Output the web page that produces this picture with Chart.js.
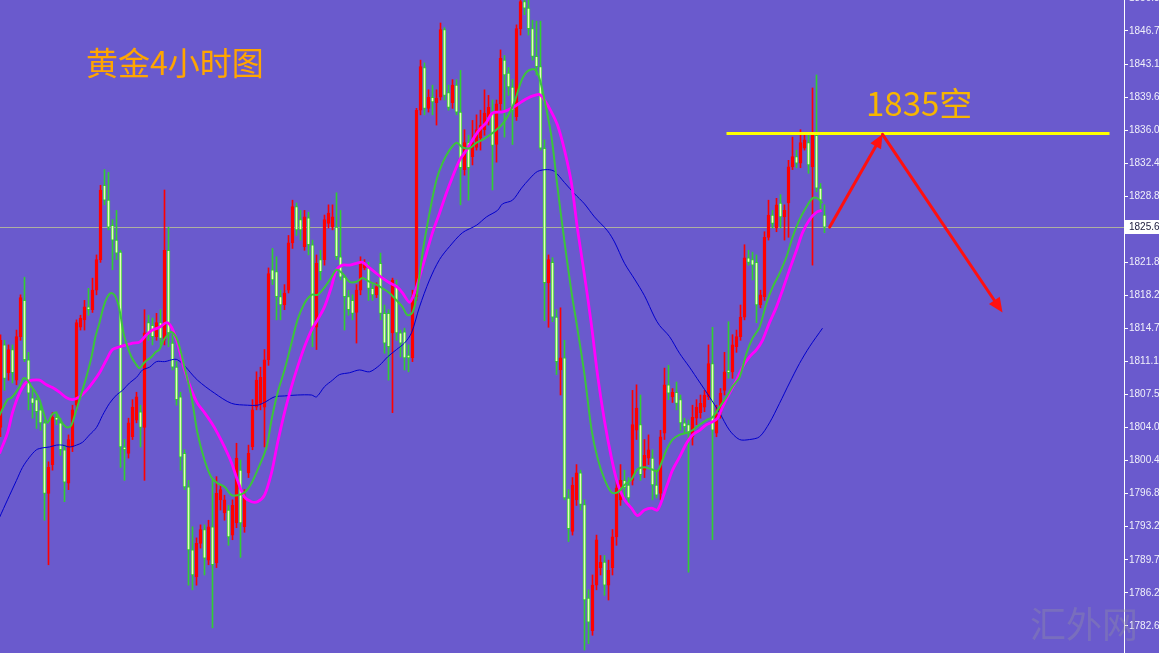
<!DOCTYPE html>
<html><head><meta charset="utf-8">
<script src="https://cdn.jsdelivr.net/npm/chart.js@4.4.1/dist/chart.umd.min.js"></script>
<style>html,body{margin:0;padding:0;background:#6a5acd;overflow:hidden}canvas{display:block}</style>
</head><body>
<canvas id="c" width="1159" height="653"></canvas>
<script>
// ---- candle data (gold, 4H) ----
const openP = [1804.0,1812.9,1809.9,1812.4,1809.1,1813.8,1817.7,1811.3,1807.2,1807.0,1805.9,1804.5,1796.9,1800.0,1805.1,1804.5,1801.6,1798.0,1801.9,1806.4,1814.8,1815.6,1817.0,1816.7,1818.8,1822.1,1830.1,1828.5,1825.8,1824.2,1822.9,1801.9,1801.2,1803.0,1804.8,1805.7,1804.0,1815.3,1815.0,1813.8,1815.3,1813.4,1823.1,1813.1,1810.5,1807.3,1801.2,1797.6,1790.8,1787.9,1791.5,1793.0,1789.7,1793.3,1789.4,1796.2,1794.8,1795.1,1792.4,1793.7,1799.4,1793.3,1799.1,1801.9,1806.2,1806.6,1806.2,1811.3,1821.0,1820.8,1818.1,1817.2,1818.8,1823.9,1827.8,1826.4,1823.5,1826.6,1823.7,1814.8,1822.1,1822.1,1826.0,1825.6,1825.6,1822.4,1820.2,1818.1,1817.7,1816.4,1818.8,1821.2,1821.2,1819.0,1818.3,1821.7,1816.3,1816.3,1814.2,1819.2,1814.2,1814.3,1811.8,1811.5,1818.1,1838.2,1842.8,1838.4,1839.6,1839.0,1839.6,1846.9,1840.1,1839.0,1840.9,1838.0,1831.8,1834.7,1833.2,1834.2,1835.2,1836.1,1837.5,1837.9,1834.5,1838.9,1843.6,1842.2,1840.7,1837.5,1847.0,1849.9,1849.2,1847.0,1844.0,1842.9,1834.1,1819.6,1821.8,1815.9,1810.2,1811.5,1796.4,1792.8,1796.2,1799.1,1795.7,1785.6,1782.1,1787.0,1788.9,1789.5,1787.0,1788.9,1792.2,1796.2,1798.3,1797.8,1798.3,1803.7,1804.3,1799.4,1800.7,1800.7,1797.8,1796.9,1803.4,1808.6,1807.3,1807.8,1807.0,1804.5,1804.3,1803.0,1805.0,1805.6,1806.2,1807.3,1810.9,1803.4,1805.6,1808.0,1810.2,1810.0,1812.7,1813.8,1815.9,1822.3,1822.1,1821.8,1817.2,1818.1,1824.5,1826.9,1825.5,1828.2,1826.7,1828.2,1832.1,1833.2,1832.5,1834.1,1834.7,1832.1,1835.5,1829.8,1826.9];
const highP = [1814.0,1813.4,1812.9,1812.9,1814.5,1818.3,1820.2,1812.1,1808.0,1807.2,1806.4,1804.8,1800.3,1805.6,1805.7,1805.0,1802.1,1803.2,1806.4,1815.6,1816.1,1817.7,1819.0,1820.1,1822.6,1830.1,1831.8,1831.5,1826.4,1827.4,1823.1,1802.7,1805.0,1807.0,1807.8,1806.4,1816.7,1816.1,1815.8,1816.3,1816.7,1829.6,1825.6,1814.0,1811.1,1807.8,1801.6,1798.3,1793.3,1792.1,1793.5,1793.5,1794.0,1798.3,1798.7,1797.8,1796.7,1795.6,1796.2,1802.3,1800.5,1797.3,1802.1,1807.0,1810.0,1810.5,1812.4,1821.2,1823.3,1822.4,1818.8,1819.4,1824.7,1828.5,1828.2,1827.4,1827.4,1827.2,1824.2,1822.6,1823.1,1826.9,1828.0,1828.0,1829.3,1827.4,1820.4,1818.8,1818.3,1819.4,1822.4,1822.1,1821.8,1819.4,1819.6,1822.8,1817.2,1816.7,1820.1,1819.9,1814.5,1814.7,1812.9,1818.8,1838.4,1843.6,1843.3,1840.4,1840.9,1840.4,1847.6,1847.1,1840.9,1841.5,1841.5,1842.5,1836.1,1835.5,1837.1,1837.7,1838.2,1840.4,1839.8,1839.3,1839.3,1844.7,1844.1,1842.8,1841.5,1847.4,1850.1,1850.6,1850.1,1847.9,1847.8,1847.8,1835.0,1822.6,1822.3,1816.7,1816.9,1813.4,1797.3,1798.6,1800.0,1799.4,1796.2,1786.5,1788.1,1792.4,1790.2,1790.2,1789.7,1793.0,1798.3,1800.0,1799.4,1798.6,1808.0,1808.6,1807.5,1802.7,1803.2,1801.6,1799.4,1803.7,1810.4,1810.7,1808.2,1808.9,1807.5,1805.0,1804.8,1806.4,1807.0,1807.5,1808.0,1812.9,1814.8,1806.4,1808.2,1812.1,1815.4,1814.0,1814.5,1817.2,1823.7,1823.1,1822.9,1822.6,1818.8,1825.1,1828.5,1827.4,1828.7,1829.1,1828.0,1832.8,1835.3,1833.9,1836.1,1835.7,1835.5,1840.6,1842.0,1830.3,1828.0];
const lowP = [1803.0,1808.0,1809.1,1808.8,1808.6,1813.4,1811.1,1805.9,1805.0,1803.9,1803.7,1794.0,1789.2,1799.4,1804.3,1801.0,1796.0,1797.3,1801.4,1805.9,1814.5,1814.5,1816.1,1816.4,1818.3,1821.8,1828.0,1825.3,1821.0,1822.1,1799.7,1798.3,1800.7,1802.7,1804.5,1801.9,1798.3,1813.4,1812.9,1813.4,1812.9,1812.9,1812.7,1810.2,1806.4,1799.4,1797.3,1787.0,1786.5,1787.0,1791.0,1788.1,1789.2,1782.4,1788.9,1795.1,1794.0,1791.3,1791.9,1793.2,1790.0,1792.7,1798.6,1801.6,1805.9,1805.9,1801.9,1810.7,1819.4,1815.6,1815.6,1816.7,1818.5,1823.3,1824.7,1824.2,1823.1,1822.6,1812.7,1812.4,1819.9,1821.5,1825.5,1825.3,1822.1,1819.9,1814.5,1816.1,1815.6,1813.1,1818.3,1821.0,1817.7,1817.7,1818.0,1815.6,1812.0,1809.1,1805.6,1813.4,1811.6,1810.2,1810.0,1811.1,1817.7,1837.7,1837.7,1838.0,1837.7,1836.6,1839.3,1839.3,1838.2,1838.4,1837.7,1828.0,1831.2,1828.5,1832.3,1833.9,1833.9,1835.5,1836.6,1829.6,1832.6,1838.2,1835.3,1839.8,1834.5,1837.1,1846.3,1848.5,1846.3,1843.6,1842.0,1833.9,1815.5,1814.8,1815.4,1809.7,1807.5,1796.2,1791.7,1792.4,1795.6,1795.1,1780.0,1780.7,1781.6,1786.5,1788.1,1785.9,1785.4,1788.1,1791.3,1795.6,1796.2,1795.6,1797.8,1802.7,1798.3,1798.6,1800.0,1796.2,1796.4,1796.2,1802.7,1807.0,1806.7,1805.9,1803.7,1803.4,1788.4,1802.1,1804.3,1805.0,1805.7,1807.0,1791.9,1803.0,1805.0,1807.5,1809.3,1809.3,1812.1,1813.4,1815.6,1821.5,1819.9,1815.3,1816.9,1817.7,1824.2,1825.5,1825.1,1825.5,1824.2,1824.5,1831.8,1832.0,1832.0,1833.9,1831.4,1821.5,1829.4,1827.4,1825.0];
const closeP = [1813.4,1809.3,1812.4,1809.9,1813.8,1818.0,1811.3,1807.7,1806.6,1805.7,1804.5,1796.9,1799.7,1805.1,1804.8,1801.6,1798.1,1802.7,1805.9,1815.3,1815.8,1817.0,1816.7,1818.8,1822.1,1829.6,1828.5,1825.6,1824.2,1822.8,1801.9,1801.6,1804.5,1806.2,1807.3,1804.0,1814.2,1814.2,1813.8,1815.3,1813.6,1823.1,1814.2,1810.5,1807.0,1800.8,1797.6,1790.8,1788.1,1791.5,1793.0,1789.9,1793.3,1789.2,1796.9,1797.3,1796.2,1792.2,1795.6,1800.7,1793.7,1796.4,1801.2,1805.9,1809.1,1809.4,1811.3,1820.6,1819.9,1818.1,1817.2,1818.5,1823.9,1827.8,1825.3,1825.3,1826.7,1823.7,1814.8,1821.7,1820.8,1826.4,1827.1,1826.7,1822.4,1820.2,1818.1,1816.7,1816.3,1818.8,1821.7,1821.7,1819.0,1818.3,1819.2,1816.3,1813.1,1812.7,1819.9,1814.2,1813.1,1811.5,1811.5,1818.1,1838.2,1842.9,1838.4,1839.6,1839.1,1839.5,1846.9,1839.8,1838.5,1840.9,1838.0,1832.0,1834.7,1832.0,1834.7,1836.1,1836.6,1837.9,1838.5,1834.4,1838.9,1843.8,1842.0,1840.7,1838.2,1847.0,1849.9,1849.2,1847.0,1844.0,1842.9,1834.1,1819.6,1822.1,1815.9,1811.1,1811.5,1796.4,1793.1,1797.8,1799.1,1795.7,1785.4,1783.0,1787.0,1791.9,1789.5,1787.0,1788.6,1792.2,1797.5,1798.3,1797.5,1796.4,1804.3,1806.1,1798.9,1801.0,1801.6,1797.8,1796.7,1803.0,1808.6,1807.7,1807.8,1806.6,1804.5,1804.1,1803.4,1805.1,1806.2,1806.6,1807.5,1810.9,1803.7,1805.4,1807.7,1810.0,1809.9,1812.9,1813.8,1815.9,1822.3,1821.8,1821.5,1817.2,1818.3,1824.5,1826.9,1826.0,1828.0,1826.7,1827.4,1832.1,1833.2,1832.5,1834.7,1835.0,1832.3,1835.5,1829.8,1828.5,1825.6];

// ---- moving averages: [bar index, price] ----
const maFast = [[-0.25,1805.3],[1.75,1807.0],[2.75,1807.2],[4.75,1808.4],[5.75,1809.3],[6.75,1809.1],[7.75,1808.4],[8.75,1807.8],[9.75,1807.0],[10.75,1805.6],[11.75,1804.5],[12.75,1805.3],[13.75,1805.6],[14.75,1805.0],[15.75,1804.3],[16.75,1804.0],[17.75,1804.3],[18.75,1805.6],[19.75,1807.0],[20.75,1808.4],[21.75,1809.9],[22.75,1811.6],[23.75,1813.8],[24.75,1815.3],[25.75,1817.0],[26.75,1818.1],[27.75,1818.5],[28.75,1818.1],[29.75,1816.7],[30.75,1814.2],[31.75,1812.7],[32.75,1811.6],[33.75,1810.9],[34.75,1810.4],[35.75,1810.9],[36.75,1811.3],[37.75,1811.6],[38.75,1812.1],[39.75,1812.4],[40.75,1813.4],[42.75,1814.3],[44.25,1813.4],[46,1810.5],[47.75,1807.3],[49.25,1803.4],[51,1800.5],[52.75,1798.6],[54.25,1798.0],[56,1797.6],[57.75,1796.7],[59.25,1796.7],[61,1797.0],[62.75,1798.0],[64.25,1799.4],[66,1801.2],[66.75,1802.3],[67.75,1804.8],[69.25,1807.7],[71,1810.2],[72.75,1813.1],[74.25,1815.6],[76,1817.4],[77.75,1818.3],[79.25,1818.3],[81,1819.1],[82.75,1820.2],[84,1821.0],[85.5,1820.6],[87.25,1819.7],[89,1819.7],[90.5,1820.1],[92.25,1819.7],[94,1819.4],[95.5,1819.0],[97.25,1818.5],[99,1817.7],[100.5,1817.0],[101.75,1816.1],[103,1816.4],[104,1818.1],[105.5,1822.8],[107.25,1827.1],[109,1830.7],[110.5,1832.5],[112.25,1833.9],[114,1834.7],[115.5,1834.2],[117.25,1834.1],[119,1834.7],[120.5,1835.0],[122.25,1835.5],[124,1836.1],[125.25,1836.6],[126.75,1837.5],[128.5,1839.1],[130.25,1841.4],[131.75,1842.4],[133.5,1842.6],[134.75,1841.6],[136,1839.3],[137.75,1835.3],[139.25,1829.9],[141,1824.0],[142.75,1818.6],[144.25,1814.6],[146,1809.7],[147.75,1803.8],[149.25,1800.7],[151,1798.4],[152.75,1797.0],[154.25,1797.0],[156,1797.8],[157.75,1798.4],[159.25,1799.5],[161,1799.7],[162.75,1799.5],[164.25,1799.3],[166.5,1801.6],[168,1802.7],[169.75,1803.2],[171.5,1803.4],[173,1803.7],[174.75,1804.3],[176.5,1804.8],[178,1805.1],[179.75,1806.2],[181.5,1807.3],[183,1808.4],[184.75,1809.4],[186.5,1812.0],[188,1813.6],[189.75,1814.8],[191.5,1817.4],[193,1819.1],[194.75,1820.6],[196.5,1822.4],[198,1824.5],[199.75,1826.4],[201.5,1827.8],[203,1828.7],[204.25,1828.7],[205.5,1828.2]];
const maMid = [[-0.25,1801.2],[1.75,1803.4],[3,1805.6],[4.75,1807.7],[6.5,1808.9],[8,1809.1],[9.75,1809.1],[11.5,1808.6],[13,1808.3],[14.75,1807.8],[16.5,1807.2],[18,1807.0],[19.75,1807.3],[21.5,1808.0],[23,1808.8],[24.75,1809.9],[26.5,1811.3],[28,1812.4],[29.75,1812.7],[31.5,1812.9],[33,1813.1],[34.75,1813.2],[36.5,1814.0],[38,1814.5],[39.75,1814.8],[41.5,1815.3],[42.75,1814.8],[44.25,1813.1],[46,1810.2],[47.75,1808.0],[49.25,1806.6],[51,1805.6],[52.75,1804.5],[54.25,1803.4],[56,1801.9],[57.75,1800.2],[59.25,1798.3],[61,1796.5],[62.75,1796.0],[64.25,1796.0],[66,1796.7],[67.75,1799.1],[69.25,1802.3],[71,1805.6],[72.75,1808.4],[74.25,1810.5],[76,1812.7],[77.75,1814.5],[79.25,1815.6],[81,1817.0],[82.75,1819.2],[84,1821.0],[85.5,1821.5],[87.25,1821.5],[89,1821.7],[90.5,1821.8],[92.25,1821.2],[94,1820.6],[95.5,1820.1],[97.25,1819.6],[99,1819.2],[100.5,1818.5],[102.25,1817.5],[103.5,1818.5],[104.75,1820.2],[106.5,1822.8],[108,1825.0],[109.75,1827.1],[111.5,1829.3],[113,1831.0],[114.75,1832.8],[116.5,1833.9],[118,1835.0],[119.75,1836.1],[121.5,1836.9],[123,1837.9],[125.25,1838.0],[126.75,1838.2],[128.5,1838.6],[130.25,1839.1],[131.75,1839.5],[133.5,1839.8],[134.75,1839.9],[136,1839.3],[137.75,1838.0],[139.25,1836.6],[141,1833.9],[142.75,1830.3],[144.25,1825.4],[146,1820.4],[147.75,1815.0],[149.25,1809.7],[151,1804.7],[152.75,1800.7],[154.25,1798.0],[156,1796.2],[157.75,1795.3],[159.25,1794.5],[161,1795.1],[162.75,1795.3],[164.25,1795.1],[166.5,1797.6],[168,1799.4],[169.75,1800.8],[171.5,1802.3],[173,1803.2],[174.75,1803.7],[176.5,1804.3],[178,1804.6],[179.25,1805.0],[180.5,1806.2],[182.25,1807.7],[184,1809.1],[185.5,1810.5],[187.25,1811.6],[189,1812.4],[190.5,1813.4],[192.25,1815.3],[194,1817.0],[195.5,1818.8],[197.25,1821.0],[199,1823.1],[200.5,1825.0],[202.25,1826.4],[204,1827.2],[205.25,1827.4]];
const maSlow = [[-0.25,1794.3],[1.75,1796.2],[4,1798.3],[5.5,1799.7],[7.25,1800.8],[9,1801.6],[10.5,1801.8],[12.25,1801.9],[14,1802.1],[15.5,1802.1],[17.25,1801.9],[19,1802.1],[20.5,1802.4],[22.25,1803.2],[24,1804.0],[25.5,1805.3],[27.25,1806.6],[29,1807.5],[30.5,1808.0],[32.25,1808.8],[34,1809.4],[35.5,1810.2],[37.25,1810.5],[39,1811.1],[41,1811.1],[44.25,1811.3],[49.25,1809.1],[53.5,1807.7],[57.75,1806.6],[61.75,1806.4],[64.25,1806.4],[66,1806.7],[68.5,1807.3],[71,1807.4],[74.25,1807.5],[77.75,1807.5],[79,1807.3],[81,1808.4],[83,1809.1],[84.75,1809.7],[87.25,1809.9],[89.75,1810.2],[92.25,1810.0],[94.75,1810.7],[96.75,1811.6],[99,1812.4],[101,1813.1],[102.75,1814.2],[104.75,1817.0],[107.25,1819.9],[109.75,1822.1],[112.25,1823.5],[115.5,1825.0],[119,1825.8],[121.5,1826.7],[124.25,1827.4],[125.5,1828.1],[128,1828.5],[130.25,1829.8],[132.25,1830.8],[134.25,1831.6],[136.75,1831.8],[138.5,1831.6],[141,1830.4],[143.5,1829.2],[146,1828.1],[148.5,1826.7],[151.75,1825.2],[153.5,1824.0],[156,1821.7],[158.5,1820.0],[161,1818.2],[163.5,1815.9],[164.75,1815.0],[167.25,1813.8],[169.75,1812.0],[172.25,1810.5],[174.75,1808.9],[177.25,1807.3],[179.75,1805.6],[182.25,1803.7],[184.75,1802.7],[187.25,1802.7],[189.75,1803.0],[192.25,1804.5],[194.75,1806.6],[197.25,1808.8],[199.75,1810.9],[202.25,1812.7],[205.5,1814.7]];

// ---- price axis ----
const yMin = 1779.69, yMax = 1850.08;
const yTickValues = [1850.30,1846.74,1843.18,1839.61,1836.05,1832.49,1828.92,1825.36,1821.80,1818.24,1814.67,1811.11,1807.55,1803.99,1800.42,1796.86,1793.30,1789.73,1786.17,1782.61];
const yTickLabels = ["1850.31","1846.74","1843.17","1839.61","1836.04","1832.48","1828.89","1825.35","1821.80","1818.24","1814.70","1811.14","1807.57","1804.01","1800.44","1796.88","1793.29","1789.73","1786.20","1782.62"];
const lastPriceLabel = "1825.61";

// ---- annotations (data units: bar index / price) ----
const resistValue = 1835.7;
const resistSpan = [181.5, 277.25];
const arrowPath = [[207.3, 1825.6], [220.5, 1835.6], [250.5, 1816.4]];
const titleText = "黄金4小时图";
const signalText = "1835空";
const watermarkText = "汇外网";

const N = openP.length;
const isUp = openP.map((o, i) => closeP[i] >= o);
const UP = '#ff0000', DN_EDGE = '#32cd32', DN_FILL = '#e6ffb8';
const wickData = openP.map((_, i) => ({ x: i, y: [lowP[i], highP[i]] }));
const bodyData = openP.map((o, i) => ({ x: i, y: [Math.min(o, closeP[i]), Math.max(o, closeP[i])] }));

function drawArrow(ctx, x1, y1, x2, y2, head) {
  const a = Math.atan2(y2 - y1, x2 - x1);
  ctx.beginPath();
  ctx.moveTo(x1, y1);
  ctx.lineTo(x2 - Math.cos(a) * head * 0.6, y2 - Math.sin(a) * head * 0.6);
  ctx.stroke();
  ctx.beginPath();
  ctx.moveTo(x2, y2);
  ctx.lineTo(x2 - head * Math.cos(a - 0.42), y2 - head * Math.sin(a - 0.42));
  ctx.lineTo(x2 - head * Math.cos(a + 0.42), y2 - head * Math.sin(a + 0.42));
  ctx.closePath();
  ctx.fill();
}

const overlay = {
  id: 'overlay',
  beforeDraw(chart) {
    const c = chart.ctx;
    c.save(); c.fillStyle = '#6a5acd'; c.fillRect(0, 0, chart.width, chart.height); c.restore();
  },
  beforeDatasetsDraw(chart) {
    const { ctx, chartArea, scales: { y } } = chart;
    const py = Math.round(y.getPixelForValue(closeP[N - 1])) + 0.5;
    ctx.save();
    ctx.strokeStyle = '#aeb0a0'; ctx.lineWidth = 1;
    ctx.beginPath(); ctx.moveTo(chartArea.left, py); ctx.lineTo(chartArea.right, py); ctx.stroke();
    ctx.restore();
  },
  afterDatasetsDraw(chart) {
    const { ctx, scales: { x, y } } = chart;
    ctx.save();
    const ry = y.getPixelForValue(resistValue);
    ctx.strokeStyle = '#ffff00'; ctx.lineWidth = 3;
    ctx.beginPath(); ctx.moveTo(x.getPixelForValue(resistSpan[0]), ry); ctx.lineTo(x.getPixelForValue(resistSpan[1]), ry); ctx.stroke();
    const pts = arrowPath.map(p => [x.getPixelForValue(p[0]), y.getPixelForValue(p[1])]);
    ctx.strokeStyle = '#ff1010'; ctx.fillStyle = '#ff1010'; ctx.lineWidth = 3; ctx.lineCap = 'round';
    drawArrow(ctx, pts[0][0], pts[0][1], pts[1][0], pts[1][1], 15);
    drawArrow(ctx, pts[1][0], pts[1][1], pts[2][0], pts[2][1], 16);
    ctx.textBaseline = 'middle'; ctx.textAlign = 'left';
    ctx.fillStyle = '#ffa500';
    ctx.font = '32px "Noto Sans CJK SC"';
    ctx.fillText(titleText, 86, 63);
    ctx.fillStyle = '#f7b500';
    ctx.font = '33px "Noto Sans CJK SC"';
    ctx.fillText(signalText, 866, 103);
    ctx.restore();
  },
  afterDraw(chart) {
    const { ctx, chartArea, scales: { y } } = chart;
    ctx.save();
    const py = Math.round(y.getPixelForValue(closeP[N - 1]));
    ctx.fillStyle = '#ffffff';
    ctx.fillRect(chartArea.right + 1, py - 7, 40, 14);
    ctx.fillStyle = '#202040';
    ctx.font = '10px "Liberation Sans"';
    ctx.textBaseline = 'middle'; ctx.textAlign = 'left';
    ctx.fillText(lastPriceLabel, chartArea.right + 5, py);
    ctx.fillStyle = 'rgba(150,150,160,0.35)';
    ctx.font = '36px "Noto Sans CJK SC"';
    ctx.fillText(watermarkText, 1030, 624);
    ctx.restore();
  }
};

new Chart(document.getElementById('c'), {
  type: 'bar',
  data: {
    datasets: [
      { type: 'line', label: 'MA fast', data: maFast.map(p => ({ x: p[0], y: p[1] })), borderColor: '#3cc43c', borderWidth: 2, pointRadius: 0, tension: 0.3, order: 0 },
      { type: 'line', label: 'MA mid', data: maMid.map(p => ({ x: p[0], y: p[1] })), borderColor: '#ff00ff', borderWidth: 2.8, pointRadius: 0, tension: 0.3, order: 1 },
      { type: 'line', label: 'MA slow', data: maSlow.map(p => ({ x: p[0], y: p[1] })), borderColor: '#0000cc', borderWidth: 1, pointRadius: 0, tension: 0.3, order: 2 },
      { type: 'bar', label: 'body', data: bodyData, barThickness: 3, grouped: false, minBarLength: 1,
        backgroundColor: isUp.map(u => u ? UP : DN_FILL), borderColor: isUp.map(u => u ? UP : DN_EDGE), borderWidth: 1, borderSkipped: false, order: 3 },
      { type: 'bar', label: 'wick', data: wickData, barThickness: 1, grouped: false,
        backgroundColor: isUp.map(u => u ? UP : DN_EDGE), borderWidth: 0, order: 4 }
    ]
  },
  options: {
    responsive: false, animation: false, devicePixelRatio: 1, events: [],
    layout: { padding: 0 },
    plugins: { legend: { display: false }, tooltip: { enabled: false } },
    scales: {
      x: { type: 'linear', min: -0.125, max: 280.875, offset: false, display: false, grid: { offset: false } },
      y: {
        position: 'right', min: yMin, max: yMax,
        afterBuildTicks: s => { s.ticks = yTickValues.map(v => ({ value: v })); },
        afterFit: s => { s.width = 35; s.paddingTop = 0; s.paddingBottom = 0; },
        ticks: { autoSkip: false, color: '#f0f0fa', padding: 1, font: { family: 'Liberation Sans', size: 10 }, callback: (v, i) => yTickLabels[i] },
        grid: { display: true, drawOnChartArea: false, drawTicks: true, tickLength: 4, color: '#ffffff' },
        border: { display: true, color: '#ffffff', width: 1 }
      }
    }
  },
  plugins: [overlay]
});
</script>
</body></html>
